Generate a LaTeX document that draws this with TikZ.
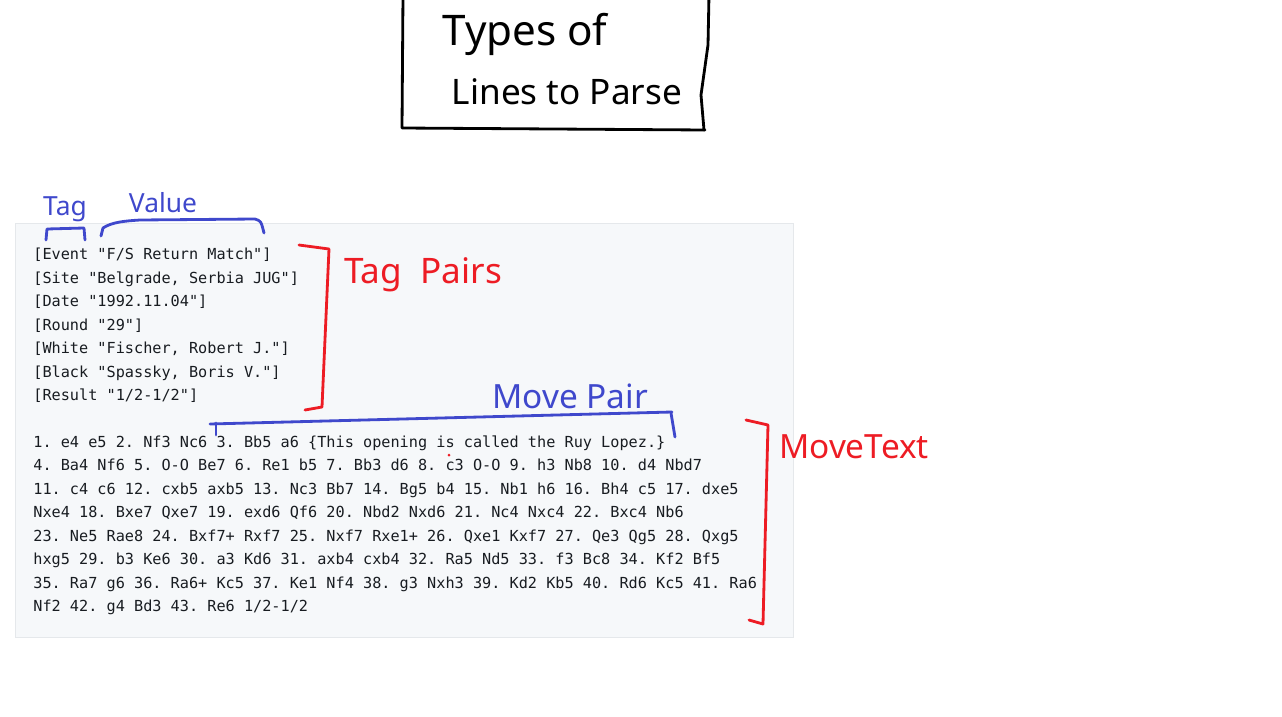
\documentclass[tikz,border=0pt]{standalone}
\usepackage{fontspec}
\setmonofont{DejaVu Sans Mono}
\setsansfont{Noto Sans}
\usepackage{xcolor}
\usepackage{tikz}
\usetikzlibrary{positioning}
\definecolor{inkblue}{RGB}{63,72,204}
\definecolor{inkred}{RGB}{237,28,36}
\definecolor{codebg}{RGB}{246,248,250}
\definecolor{codeedge}{RGB}{229,232,235}
\definecolor{codetext}{RGB}{24,28,33}

\begin{document}
\begin{tikzpicture}[x=0.02cm, y=-0.02cm,
  codeline/.style={font=\fontsize{8.66}{10}\selectfont\ttfamily, text=codetext, anchor=base west, inner sep=0pt},
  ink/.style={line width=1.6pt, line cap=round, line join=round},
  note/.style={font=\sffamily, inner sep=0pt},
]
  \useasboundingbox (0,0) rectangle (1282,717);

  % Title
  \draw[ink, black] (403,-5) -- (402,128) -- (705,130);
  \draw[ink, black] (709,-5) -- (708,45) -- (701,95) -- (704,130);
  \node[note, font=\fontsize{24}{28}\selectfont\sffamily] (title1) at (525,34) {Types of};
  \node[note, font=\fontsize{20}{24}\selectfont\sffamily] (title2) at (567,92) {Lines to Parse};

  % PGN listing
  \draw[fill=codebg, draw=codeedge] (15,223) rectangle (793,637);
  \foreach \t [count=\i] in {%
    {[Event "F/S Return Match"]},
    {[Site "Belgrade, Serbia JUG"]},
    {[Date "1992.11.04"]},
    {[Round "29"]},
    {[White "Fischer, Robert J."]},
    {[Black "Spassky, Boris V."]},
    {[Result "1/2-1/2"]}}
    \node[codeline] (tag\i) at (33,236+23.5*\i) {\t};
  \foreach \t [count=\i] in {%
    {1. e4 e5 2. Nf3 Nc6 3. Bb5 a6 \{This opening is called the Ruy Lopez.\}},
    {4. Ba4 Nf6 5. O-O Be7 6. Re1 b5 7. Bb3 d6 8. c3 O-O 9. h3 Nb8 10. d4 Nbd7},
    {11. c4 c6 12. cxb5 axb5 13. Nc3 Bb7 14. Bg5 b4 15. Nb1 h6 16. Bh4 c5 17. dxe5},
    {Nxe4 18. Bxe7 Qxe7 19. exd6 Qf6 20. Nbd2 Nxd6 21. Nc4 Nxc4 22. Bxc4 Nb6},
    {23. Ne5 Rae8 24. Bxf7+ Rxf7 25. Nxf7 Rxe1+ 26. Qxe1 Kxf7 27. Qe3 Qg5 28. Qxg5},
    {hxg5 29. b3 Ke6 30. a3 Kd6 31. axb4 cxb4 32. Ra5 Nd5 33. f3 Bc8 34. Kf2 Bf5},
    {35. Ra7 g6 36. Ra6+ Kc5 37. Ke1 Nf4 38. g3 Nxh3 39. Kd2 Kb5 40. Rd6 Kc5 41. Ra6},
    {Nf2 42. g4 Bd3 43. Re6 1/2-1/2}}
    \node[codeline] (mv\i) at (33,424.1+23.43*\i) {\t};

  % Tag / Value
  \node[note, text=inkblue, font=\fontsize{15}{18}\selectfont\sffamily] (tag) at (65,209) {Tag};
  \draw[ink, inkblue] (46,240) -- (47,229) -- (84,228) -- (85,240);
  \node[note, text=inkblue, font=\fontsize{15}{18}\selectfont\sffamily] (value) at (163,203) {Value};
  \draw[ink, inkblue] (101,236) -- (103,228) .. controls (112,222) and (125,221) .. (140,220)
    -- (255,219) .. controls (261,221) .. (264,233);

  % Tag Pairs
  \draw[ink, inkred] (299,245) -- (329,249) -- (322,407) -- (305,410);
  \node[note, text=inkred, font=\fontsize{20}{24}\selectfont\sffamily] (tagpairs) at (423,275) {Tag\ \ Pairs};

  % Move Pair
  \node[note, text=inkblue, font=\fontsize{19}{23}\selectfont\sffamily] (movepair) at (570,396) {Move Pair};
  \draw[ink, inkblue] (210,424) -- (672,412);
  \draw[ink, inkblue] (216,423) -- (216,435);
  \draw[ink, inkblue] (671,413) -- (675,437);

  % Move Text
  \draw[ink, inkred] (746,420) -- (768,425) -- (763,624) -- (749,620);
  \node[note, text=inkred, font=\fontsize{19}{23}\selectfont\sffamily] (movetext) at (854,447) {MoveText};
  \fill[inkred] (449,455) circle (1.5);
\end{tikzpicture}
\end{document}
